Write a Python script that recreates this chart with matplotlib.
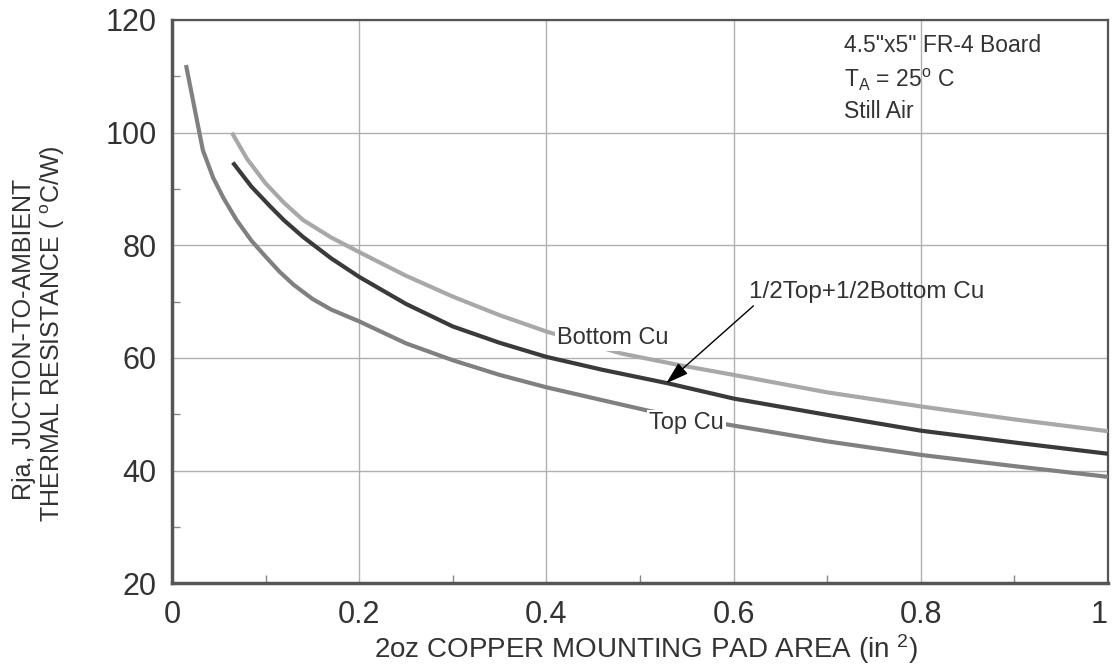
import matplotlib.pyplot as plt
from matplotlib.ticker import MultipleLocator

plt.rcParams['font.family'] = ['Liberation Sans', 'DejaVu Sans']
plt.rcParams['mathtext.default'] = 'regular'

# curves
top_x = [0.015, 0.033, 0.044, 0.055, 0.069, 0.085, 0.1, 0.115, 0.13, 0.15, 0.17, 0.2,
         0.25, 0.3, 0.35, 0.4, 0.46, 0.51, 0.6, 0.7, 0.8, 0.9, 1.0]
top_y = [112.0, 96.9, 92.0, 88.4, 84.5, 80.8, 78.0, 75.3, 73.0, 70.5, 68.6, 66.5,
         62.6, 59.6, 57.0, 54.8, 52.5, 50.6, 48.0, 45.2, 42.8, 40.8, 38.9]

bot_x = [0.064, 0.08, 0.1, 0.12, 0.14, 0.17, 0.2, 0.25, 0.3, 0.35, 0.4, 0.48, 0.54,
         0.6, 0.7, 0.8, 0.9, 1.0]
bot_y = [100.0, 95.4, 91.0, 87.5, 84.5, 81.4, 78.8, 74.6, 70.9, 67.6, 64.7, 60.8, 58.8,
         57.0, 53.9, 51.4, 49.1, 47.0]

mid_x = [0.065, 0.085, 0.105, 0.12, 0.14, 0.17, 0.2, 0.25, 0.3, 0.35, 0.4, 0.46, 0.53,
         0.6, 0.7, 0.8, 0.9, 1.0]
mid_y = [94.7, 90.4, 86.9, 84.4, 81.5, 77.7, 74.4, 69.6, 65.6, 62.7, 60.2, 57.9, 55.5,
         52.8, 49.9, 47.1, 45.0, 43.0]

xticks = [0, 0.2, 0.4, 0.6, 0.8, 1.0]
xtick_labels = ['0', '0.2', '0.4', '0.6', '0.8', '1']
yticks = [20, 40, 60, 80, 100, 120]

txt = '#333333'

fig = plt.figure(figsize=(11.13, 6.64), dpi=100)
ax = fig.add_axes([0.1545, 0.1215, 0.8410, 0.8484])

ax.plot(top_x, top_y, color='#808080', lw=3, solid_capstyle='butt', solid_joinstyle='round', zorder=3)
ax.plot(bot_x, bot_y, color='#a8a8a8', lw=3, solid_capstyle='butt', solid_joinstyle='round', zorder=3)
ax.plot(mid_x, mid_y, color='#3a3a3a', lw=3, solid_capstyle='butt', solid_joinstyle='round', zorder=4)

ax.set_xlim(0, 1)
ax.set_ylim(20, 120)
ax.set_xticks(xticks)
ax.set_xticklabels(xtick_labels)
ax.set_yticks(yticks)
ax.xaxis.set_minor_locator(MultipleLocator(0.1))
ax.yaxis.set_minor_locator(MultipleLocator(10))
ax.tick_params(which='major', length=0, labelsize=22, labelcolor=txt)
ax.tick_params(axis='x', which='major', pad=12)
ax.tick_params(axis='y', which='major', pad=11)
ax.tick_params(which='minor', direction='in', length=6, width=1, color='#888888')
ax.grid(True, which='major', color='#b0b0b0', lw=1)
ax.get_xticklabels()[-1].set_horizontalalignment('right')

for side in ['left', 'bottom']:
    ax.spines[side].set_linewidth(2.5)
    ax.spines[side].set_color('#555555')
for side in ['top', 'right']:
    ax.spines[side].set_linewidth(1.6)
    ax.spines[side].set_color('#555555')

fig.text(646 / 1113, 1 - 658 / 664, '2oz COPPER MOUNTING PAD AREA (in $^{2}$)',
         ha='center', va='baseline', fontsize=20, color=txt)

fig.text(24 / 1113, 1 - 339 / 664, 'Rja, JUCTION-TO-AMBIENT', rotation=90,
         ha='center', va='center', fontsize=18, color=txt)
fig.text(53 / 1113, 1 - 334 / 664, 'THERMAL RESISTANCE ( $^{o}$C/W)', rotation=90,
         ha='center', va='center', fontsize=18, color=txt)

# conditions block
ax.text(0.718, 115.4, '4.5"x5" FR-4 Board', fontsize=16.5, color=txt, va='center')
ax.text(0.718, 109.4, 'T$_{A}$ = 25$^{o}$ C', fontsize=16.5, color=txt, va='center')
ax.text(0.718, 103.7, 'Still Air', fontsize=16.5, color=txt, va='center')

box = dict(facecolor='white', edgecolor='none', pad=1.5)
ax.text(0.411, 63.5, 'Bottom Cu', fontsize=17, color=txt, va='center', bbox=box, zorder=5)
ax.text(0.510, 48.5, 'Top Cu', fontsize=17, color=txt, va='center', bbox=box, zorder=5)

ax.annotate('1/2Top+1/2Bottom Cu', xy=(0.528, 55.5), xytext=(0.617, 71.7),
            fontsize=17.5, color=txt, va='center', zorder=6,
            arrowprops=dict(arrowstyle='-|>,head_length=0.8,head_width=0.25', color='black',
                            lw=1, shrinkA=0, shrinkB=0, relpos=(0.03, 0.0)))

fig.savefig('out.png', dpi=100)
